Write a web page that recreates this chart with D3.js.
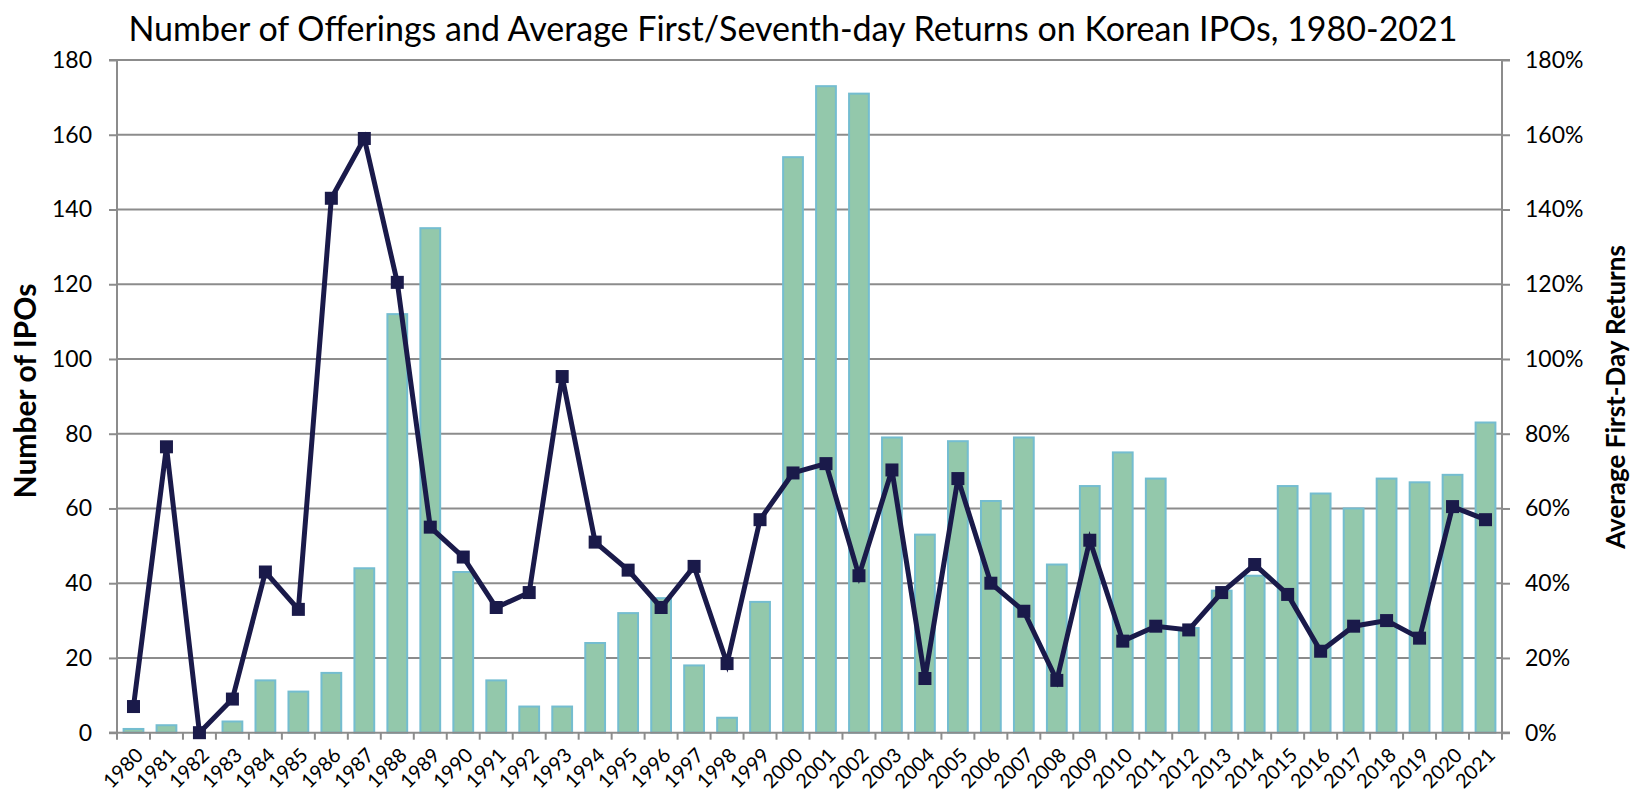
<!DOCTYPE html>
<html>
<head>
<meta charset="utf-8">
<script src="https://cdn.jsdelivr.net/npm/d3@7/dist/d3.min.js"></script>
<style>
  html, body { margin: 0; padding: 0; background: #fff; }
  svg { display: block; font-family: Lato, "Open Sans", sans-serif; }
</style>
</head>
<body>
<svg id="chart" width="1633" height="793"></svg>
<script>
// Years of listing
const years = [1980, 1981, 1982, 1983, 1984, 1985, 1986, 1987, 1988, 1989,
  1990, 1991, 1992, 1993, 1994, 1995, 1996, 1997, 1998, 1999,
  2000, 2001, 2002, 2003, 2004, 2005, 2006, 2007, 2008, 2009,
  2010, 2011, 2012, 2013, 2014, 2015, 2016, 2017, 2018, 2019,
  2020, 2021];

// Number of IPOs per year (bars, left axis)
const ipoCounts = [1, 2, 0, 3, 14, 11, 16, 44, 112, 135,
  43, 14, 7, 7, 24, 32, 36, 18, 4, 35,
  154, 173, 171, 79, 53, 78, 62, 79, 45, 66,
  75, 68, 28, 38, 42, 66, 64, 60, 68, 67,
  69, 83];

// Average first-day return in percent (line, right axis)
const avgReturns = [7, 76.5, 0, 9, 43, 33, 143, 159, 120.5, 55,
  47, 33.5, 37.5, 95.3, 51, 43.5, 33.5, 44.5, 18.5, 57,
  69.5, 72, 42, 70.3, 14.5, 68, 40, 32.5, 14, 51.5,
  24.5, 28.5, 27.5, 37.5, 45, 37, 21.8, 28.5, 30, 25.3,
  60.5, 57];

const leftTicks = [0, 20, 40, 60, 80, 100, 120, 140, 160, 180];
const rightTicks = [0, 20, 40, 60, 80, 100, 120, 140, 160, 180];

const titleText = "Number of Offerings and Average First/Seventh-day Returns on Korean IPOs, 1980-2021";
const leftTitle = "Number of IPOs";
const rightTitle = "Average First-Day Returns";

const margin = { left: 117, right: 131, top: 60, bottom: 60 };
const W = 1633, H = 793;
const plotL = margin.left, plotR = W - margin.right;
const plotT = margin.top, plotB = 732.7;

const svg = d3.select("#chart");
const gridColor = "#8c8c8c";

const x = d3.scaleBand().domain(years).range([plotL, plotR]).paddingInner(0.4).paddingOuter(0.2);
const xEdge = d3.scaleBand().domain(years).range([plotL, plotR]).padding(0);
const yL = d3.scaleLinear().domain([0, 180]).range([plotB, plotT]);
const yR = d3.scaleLinear().domain([0, 180]).range([plotB, plotT]);

// Horizontal gridlines
svg.append("g")
  .selectAll("line")
  .data(leftTicks.slice(1))
  .join("line")
  .attr("x1", plotL).attr("x2", plotR)
  .attr("y1", d => yL(d)).attr("y2", d => yL(d))
  .attr("stroke", gridColor).attr("stroke-width", 2);

// Bars
svg.append("g")
  .selectAll("rect")
  .data(years.map((yr, i) => ({ yr, v: ipoCounts[i] })))
  .join("rect")
  .attr("x", d => x(d.yr))
  .attr("width", x.bandwidth())
  .attr("y", d => yL(d.v))
  .attr("height", d => plotB - yL(d.v))
  .attr("fill", "#93c8ab")
  .attr("stroke", "#74bdd0")
  .attr("stroke-width", 2);

// Left axis
const axL = d3.axisLeft(yL).tickValues(leftTicks).tickSize(8).tickPadding(17);
const gL = svg.append("g").attr("transform", `translate(${plotL},0)`).call(axL);
gL.select(".domain").attr("stroke", gridColor).attr("stroke-width", 2)
  .attr("d", `M-8,${plotT}H0V${plotB}H-8`);
gL.selectAll(".tick line").attr("stroke", gridColor).attr("stroke-width", 2);
gL.selectAll(".tick text").attr("font-size", 23).attr("fill", "#000")
  .attr("font-family", "Lato, sans-serif");

// Right axis
const axR = d3.axisRight(yR).tickValues(rightTicks).tickSize(8).tickPadding(15)
  .tickFormat(d => d + "%");
const gR = svg.append("g").attr("transform", `translate(${plotR},0)`).call(axR);
gR.select(".domain").attr("stroke", gridColor).attr("stroke-width", 2)
  .attr("d", `M8,${plotT}H0V${plotB}H8`);
gR.selectAll(".tick line").attr("stroke", gridColor).attr("stroke-width", 2);
gR.selectAll(".tick text").attr("font-size", 23).attr("fill", "#000")
  .attr("font-family", "Lato, sans-serif");

// Bottom axis with ticks on category boundaries
const gB = svg.append("g").attr("transform", `translate(0,${plotB})`);
gB.append("line").attr("x1", plotL - 8).attr("x2", plotR + 8)
  .attr("stroke", gridColor).attr("stroke-width", 2);
const edges = years.map(yr => xEdge(yr)).concat([plotR]);
gB.selectAll("line.tk").data(edges).join("line").attr("class", "tk")
  .attr("x1", d => d).attr("x2", d => d).attr("y1", 0).attr("y2", 7)
  .attr("stroke", gridColor).attr("stroke-width", 2);
gB.selectAll("text").data(years).join("text")
  .attr("transform", d => `translate(${xEdge(d) + xEdge.bandwidth() / 2 + 6},${19}) rotate(-45)`)
  .attr("text-anchor", "end")
  .attr("dy", "0.35em")
  .attr("font-size", 20)
  .attr("fill", "#000")
  .text(d => d);

// Return line with square markers
const pts = years.map((yr, i) => ({ yr, v: avgReturns[i] }));
const line = d3.line().x(d => xEdge(d.yr) + xEdge.bandwidth() / 2).y(d => yR(d.v));
svg.append("path").datum(pts)
  .attr("d", line)
  .attr("fill", "none")
  .attr("stroke", "#1a1a4a")
  .attr("stroke-width", 5)
  .attr("stroke-linejoin", "miter");
const ms = 13;
svg.append("g").selectAll("rect").data(pts).join("rect")
  .attr("x", d => xEdge(d.yr) + xEdge.bandwidth() / 2 - ms / 2)
  .attr("y", d => yR(d.v) - ms / 2)
  .attr("width", ms).attr("height", ms)
  .attr("fill", "#1a1a4a");

// Titles
svg.append("text")
  .attr("x", 793).attr("y", 41)
  .attr("text-anchor", "middle")
  .attr("font-size", 34)
  .attr("fill", "#000")
  .text(titleText);

svg.append("text")
  .attr("transform", `translate(36,391) rotate(-90)`)
  .attr("text-anchor", "middle")
  .attr("font-size", 30)
  .attr("font-weight", "bold")
  .attr("fill", "#000")
  .text(leftTitle);

svg.append("text")
  .attr("transform", `translate(1625,397) rotate(-90)`)
  .attr("text-anchor", "middle")
  .attr("font-size", 26)
  .attr("font-weight", "bold")
  .attr("fill", "#000")
  .text(rightTitle);
</script>
</body>
</html>
